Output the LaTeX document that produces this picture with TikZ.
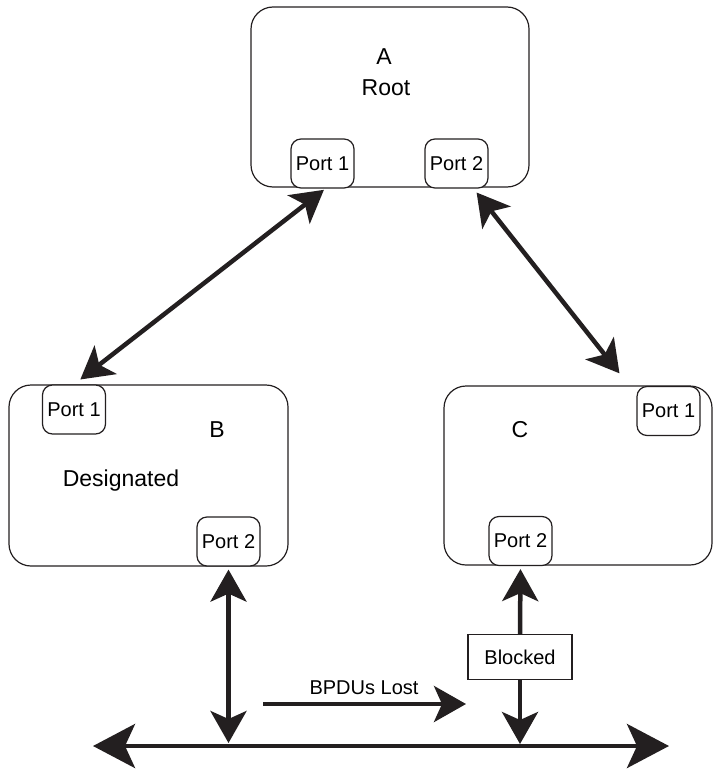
\documentclass[tikz,border=0pt]{standalone}
\usepackage{fontspec}
\setmainfont{Liberation Sans}
\usetikzlibrary{arrows.meta,calc}
\definecolor{ink}{RGB}{35,31,32}
\begin{document}
\begin{tikzpicture}[x=1pt,y=-1pt,
  switchbox/.style={draw=ink,line width=1.2pt,rounded corners=22pt,inner sep=0pt},
  portbox/.style={draw=ink,fill=white,line width=1.2pt,rounded corners=10pt,inner sep=0pt,
    minimum width=63pt,minimum height=49pt,font=\fontsize{20}{24}\selectfont},
  bigtext/.style={font=\fontsize{23}{27}\selectfont,inner sep=0pt},
  blockbox/.style={draw=ink,fill=white,line width=1.2pt,inner sep=0pt,
    minimum width=104pt,minimum height=45pt,font=\fontsize{20}{24}\selectfont},
  link/.style={draw=ink,line width=4.5pt,
    arrows={-Stealth[length=32pt,width=36pt,inset=8pt]}},
  dlink/.style={link,arrows={Stealth[length=32pt,width=36pt,inset=8pt]-Stealth[length=32pt,width=36pt,inset=8pt]}},
  buslink/.style={draw=ink,line width=4.5pt,
    arrows={Stealth[length=42pt,width=44pt,inset=10pt]-Stealth[length=42pt,width=44pt,inset=10pt]}}
]
\useasboundingbox (0,0) rectangle (713,770);
% switches
\node[switchbox,minimum width=278pt,minimum height=180pt] (A) at (390,97) {};
\node[switchbox,minimum width=279pt,minimum height=181pt] (B) at (148.5,475.5) {};
\node[switchbox,minimum width=268pt,minimum height=179pt] (C) at (578,475.5) {};
% labels
\node[bigtext] (Alab) at (384,57) {A};
\node[bigtext] (Rlab) at (386,88) {Root};
\node[bigtext] (Blab) at (217,430) {B};
\node[bigtext] (Dlab) at (121,481) {Designated};
\node[bigtext] (Clab) at (520,430) {C};
% ports
\node[portbox] (a1) at (322.5,163.5) {Port 1};
\node[portbox] (a2) at (456.5,163.5) {Port 2};
\node[portbox] (b1) at (74,409.5) {Port 1};
\node[portbox] (b2) at (228.5,541.5) {Port 2};
\node[portbox] (c1) at (668.5,411) {Port 1};
\node[portbox] (c2) at (520.5,541) {Port 2};
% blocked
\node[blockbox] (blk) at (520,657) {Blocked};
% bus
\coordinate (busL) at (93,746);
\coordinate (busR) at (669,746);
\draw[buslink] (busL) -- (busR);
% links
\draw[dlink,shorten <=2pt,shorten >=8pt] ([xshift=3pt]a1.south) -- (b1.north);
\draw[dlink,shorten <=5pt,shorten >=16pt] ([xshift=17pt]a2.south) -- ([xshift=-7pt]c1.north west);
\draw[dlink,shorten <=3pt,shorten >=3pt] (b2.south) -- (b2.south |- busL);
\draw[link,shorten >=3pt] (blk.north) -- (c2.south);
\draw[link,shorten >=2pt] (blk.south) -- (blk.south |- busL);
% BPDUs lost
\coordinate (bp1) at (263,704);
\coordinate (bp2) at (466,704);
\draw[link] (bp1) -- (bp2);
\node[font=\fontsize{20}{24}\selectfont,inner sep=0pt] (bpl) at (364,688) {BPDUs Lost};
\end{tikzpicture}
\end{document}
